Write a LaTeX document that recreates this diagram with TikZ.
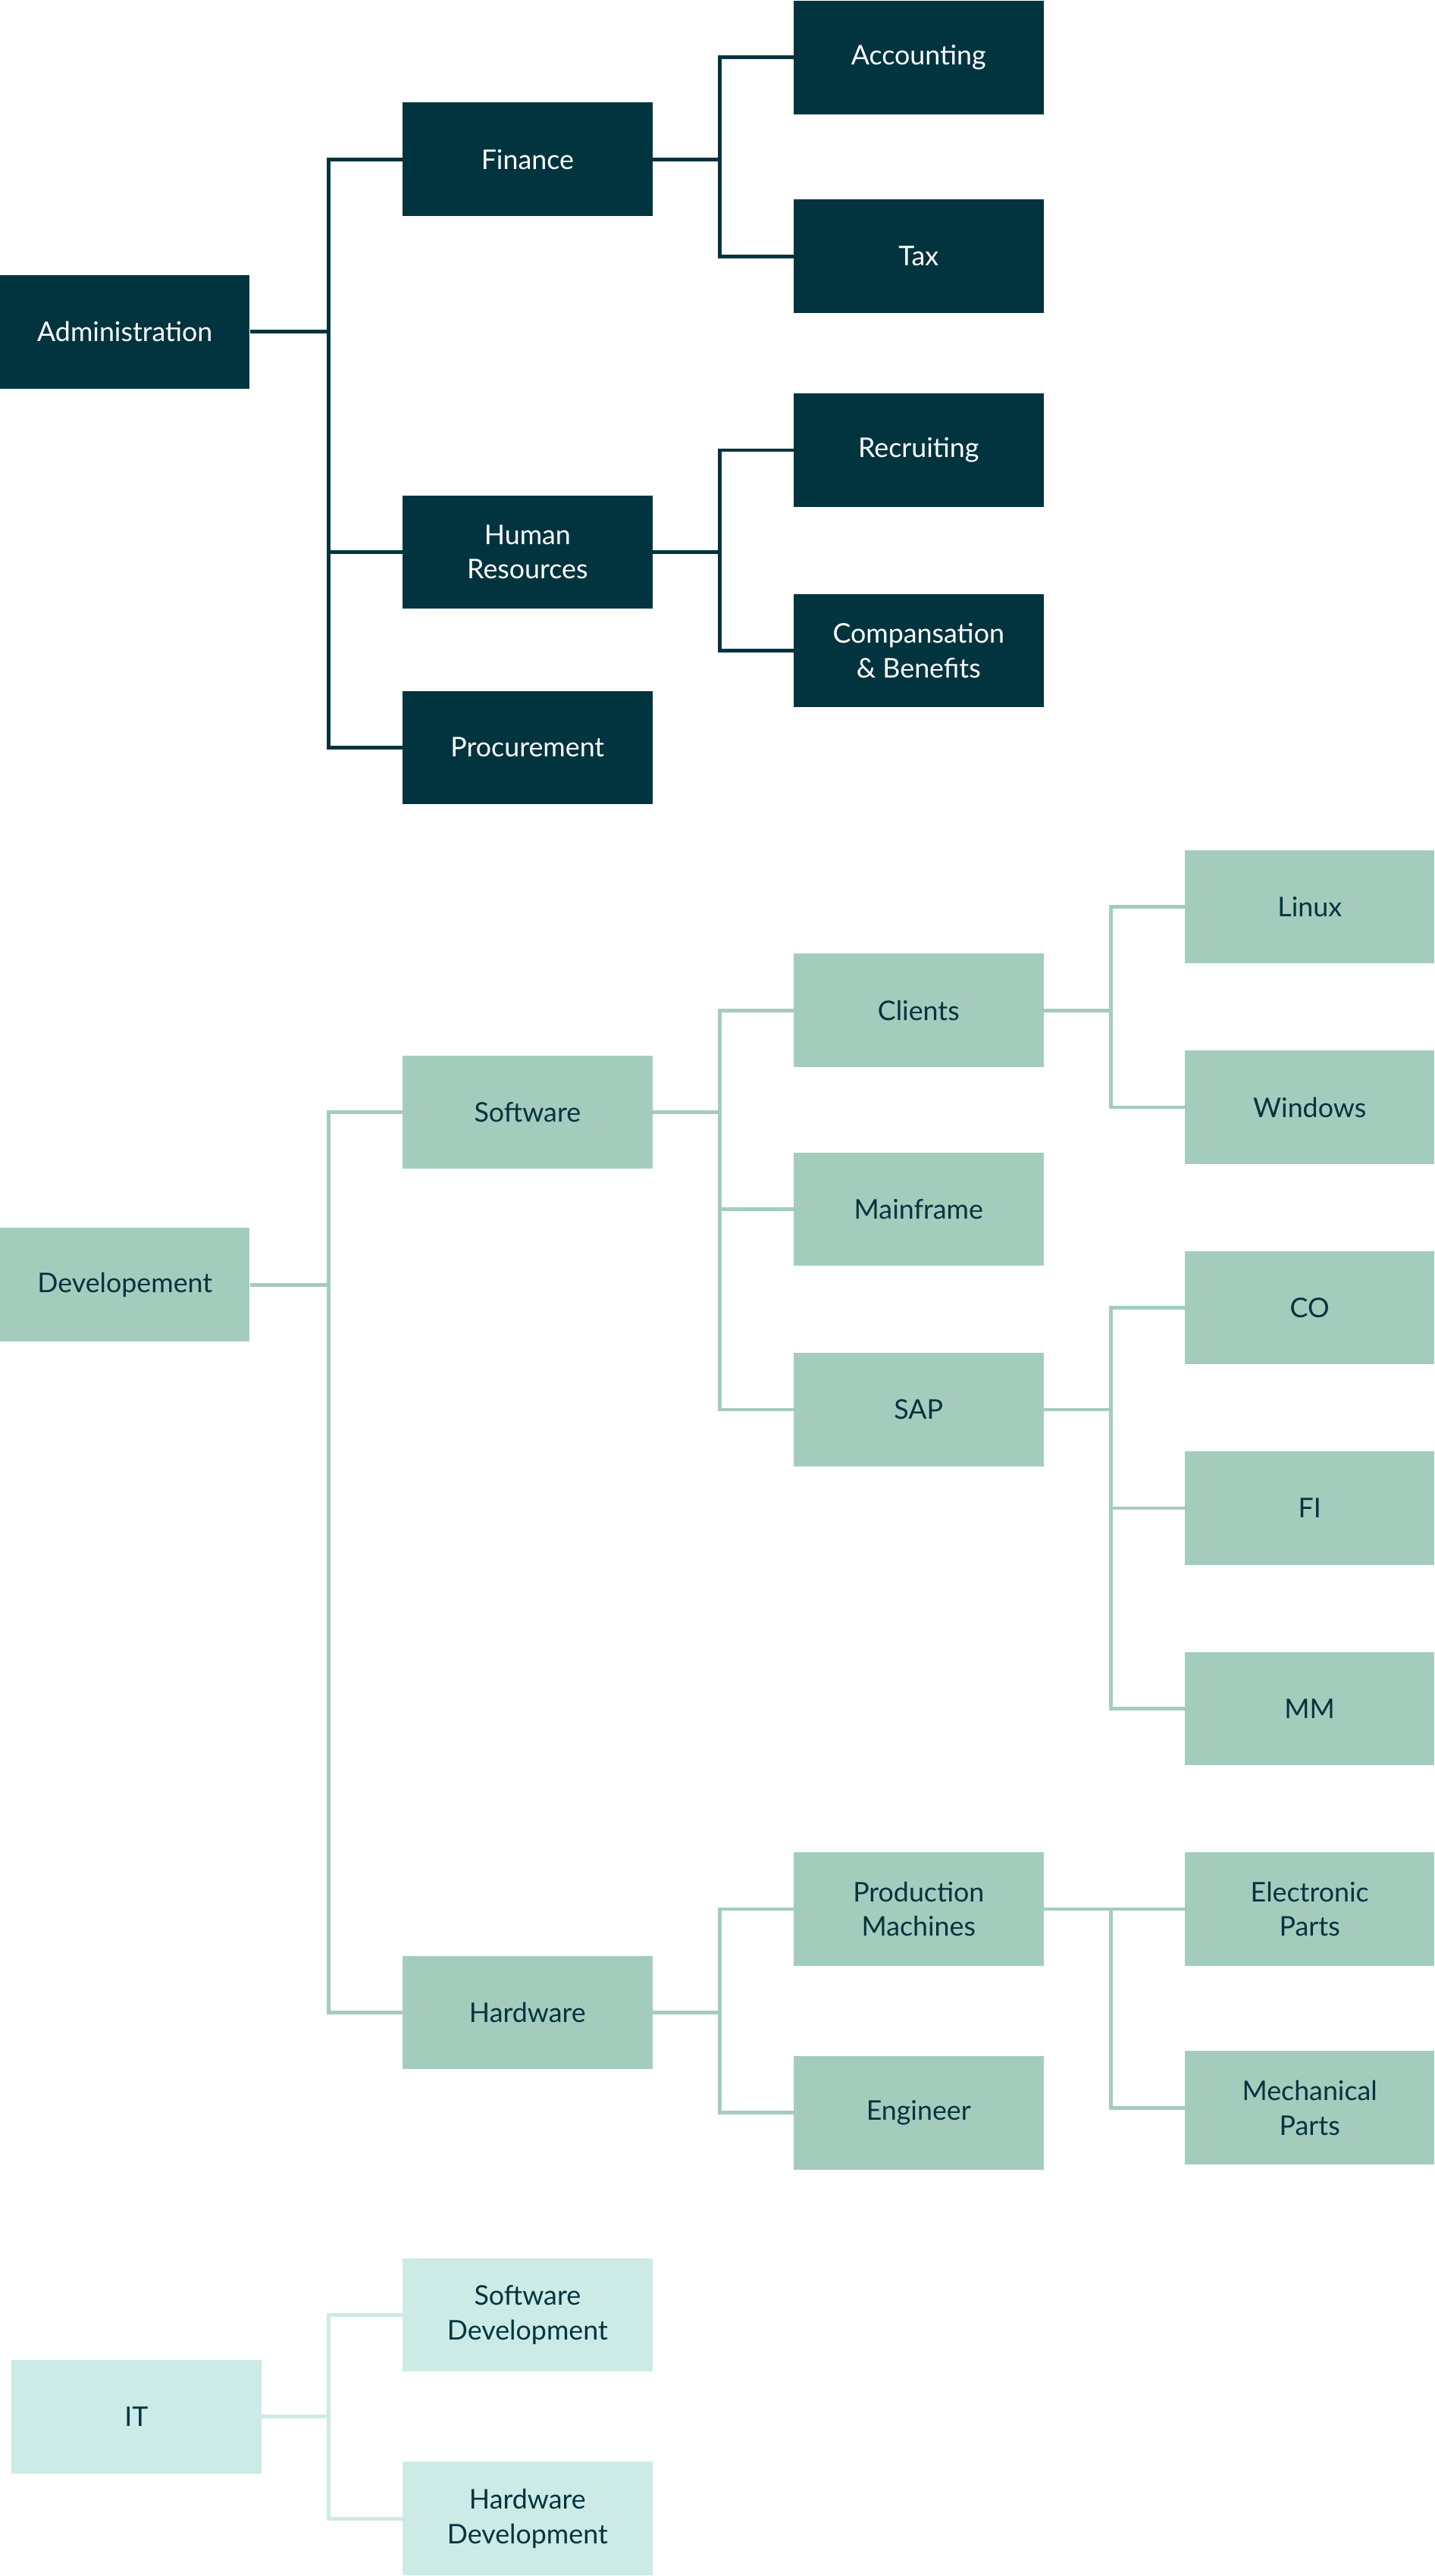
\documentclass[tikz,border=0pt]{standalone}
\usepackage{fontspec}
\setmainfont{Lato}
\definecolor{dk}{HTML}{02343F}
\definecolor{md}{HTML}{A4CCBD}
\definecolor{lt}{HTML}{CCEBE7}
\begin{document}
\begin{tikzpicture}[x=1pt,y=-1pt,
 box/.style={minimum width=152pt,minimum height=69pt,inner sep=0pt,align=center,font=\fontsize{16.5}{21}\selectfont},
 bd/.style={box,fill=dk,text=white},
 bm/.style={box,fill=md,text=dk},
 bl/.style={box,fill=lt,text=dk},
 lnd/.style={draw=dk,line width=2.2pt},
 lnm/.style={draw=md,line width=2.2pt},
 lnl/.style={draw=lt,line width=2.2pt}]
\useasboundingbox[fill=white] (0,0) rectangle (873,1568);
% Administration
\node[bd] (adm) at (76,202) {Administration};
\node[bd] (fin) at (321,97) {Finance};
\node[bd] (acc) at (559,35) {Accounting};
\node[bd] (tax) at (559,156) {Tax};
\node[bd] (hr) at (321,336) {Human\\Resources};
\node[bd] (rec) at (559,274) {Recruiting};
\node[bd] (comp) at (559,396) {Compansation\\\& Benefits};
\node[bd] (proc) at (321,455) {Procurement};
\begin{scope}[lnd]
\draw (adm.east) -- (200,202);
\foreach \t in {fin,hr,proc} \draw (200,202) |- (\t.west);
\draw (fin.east) -- (438,97);
\foreach \t in {acc,tax} \draw (438,97) |- (\t.west);
\draw (hr.east) -- (438,336);
\foreach \t in {rec,comp} \draw (438,336) |- (\t.west);
\end{scope}
% Development
\node[bm] (dev) at (76,782) {Developement};
\node[bm] (sw) at (321,677) {Software};
\node[bm] (hw) at (321,1225) {Hardware};
\node[bm] (cli) at (559,615) {Clients};
\node[bm] (mf) at (559,736) {Mainframe};
\node[bm] (sap) at (559,858) {SAP};
\node[bm] (lin) at (797,552) {Linux};
\node[bm] (win) at (797,674) {Windows};
\node[bm] (co) at (797,796) {CO};
\node[bm] (fi) at (797,918) {FI};
\node[bm] (mm) at (797,1040) {MM};
\node[bm] (pm) at (559,1162) {Production\\Machines};
\node[bm] (eng) at (559,1286) {Engineer};
\node[bm] (ep) at (797,1162) {Electronic\\Parts};
\node[bm] (mp) at (797,1283) {Mechanical\\Parts};
\begin{scope}[lnm]
\draw (dev.east) -- (200,782);
\foreach \t in {sw,hw} \draw (200,782) |- (\t.west);
\draw (sw.east) -- (438,677);
\foreach \t in {cli,mf,sap} \draw (438,677) |- (\t.west);
\draw (cli.east) -- (676,615);
\foreach \t in {lin,win} \draw (676,615) |- (\t.west);
\draw (sap.east) -- (676,858);
\foreach \t in {co,fi,mm} \draw (676,858) |- (\t.west);
\draw (hw.east) -- (438,1225);
\foreach \t in {pm,eng} \draw (438,1225) |- (\t.west);
\draw (pm.east) -- (ep.west);
\draw (676,1162) |- (mp.west);
\end{scope}
% IT
\node[bl] (it) at (83,1471) {IT};
\node[bl] (sd) at (321,1409) {Software\\Development};
\node[bl] (hd) at (321,1533) {Hardware\\Development};
\begin{scope}[lnl]
\draw (it.east) -- (200,1471);
\foreach \t in {sd,hd} \draw (200,1471) |- (\t.west);
\end{scope}
\end{tikzpicture}
\end{document}
